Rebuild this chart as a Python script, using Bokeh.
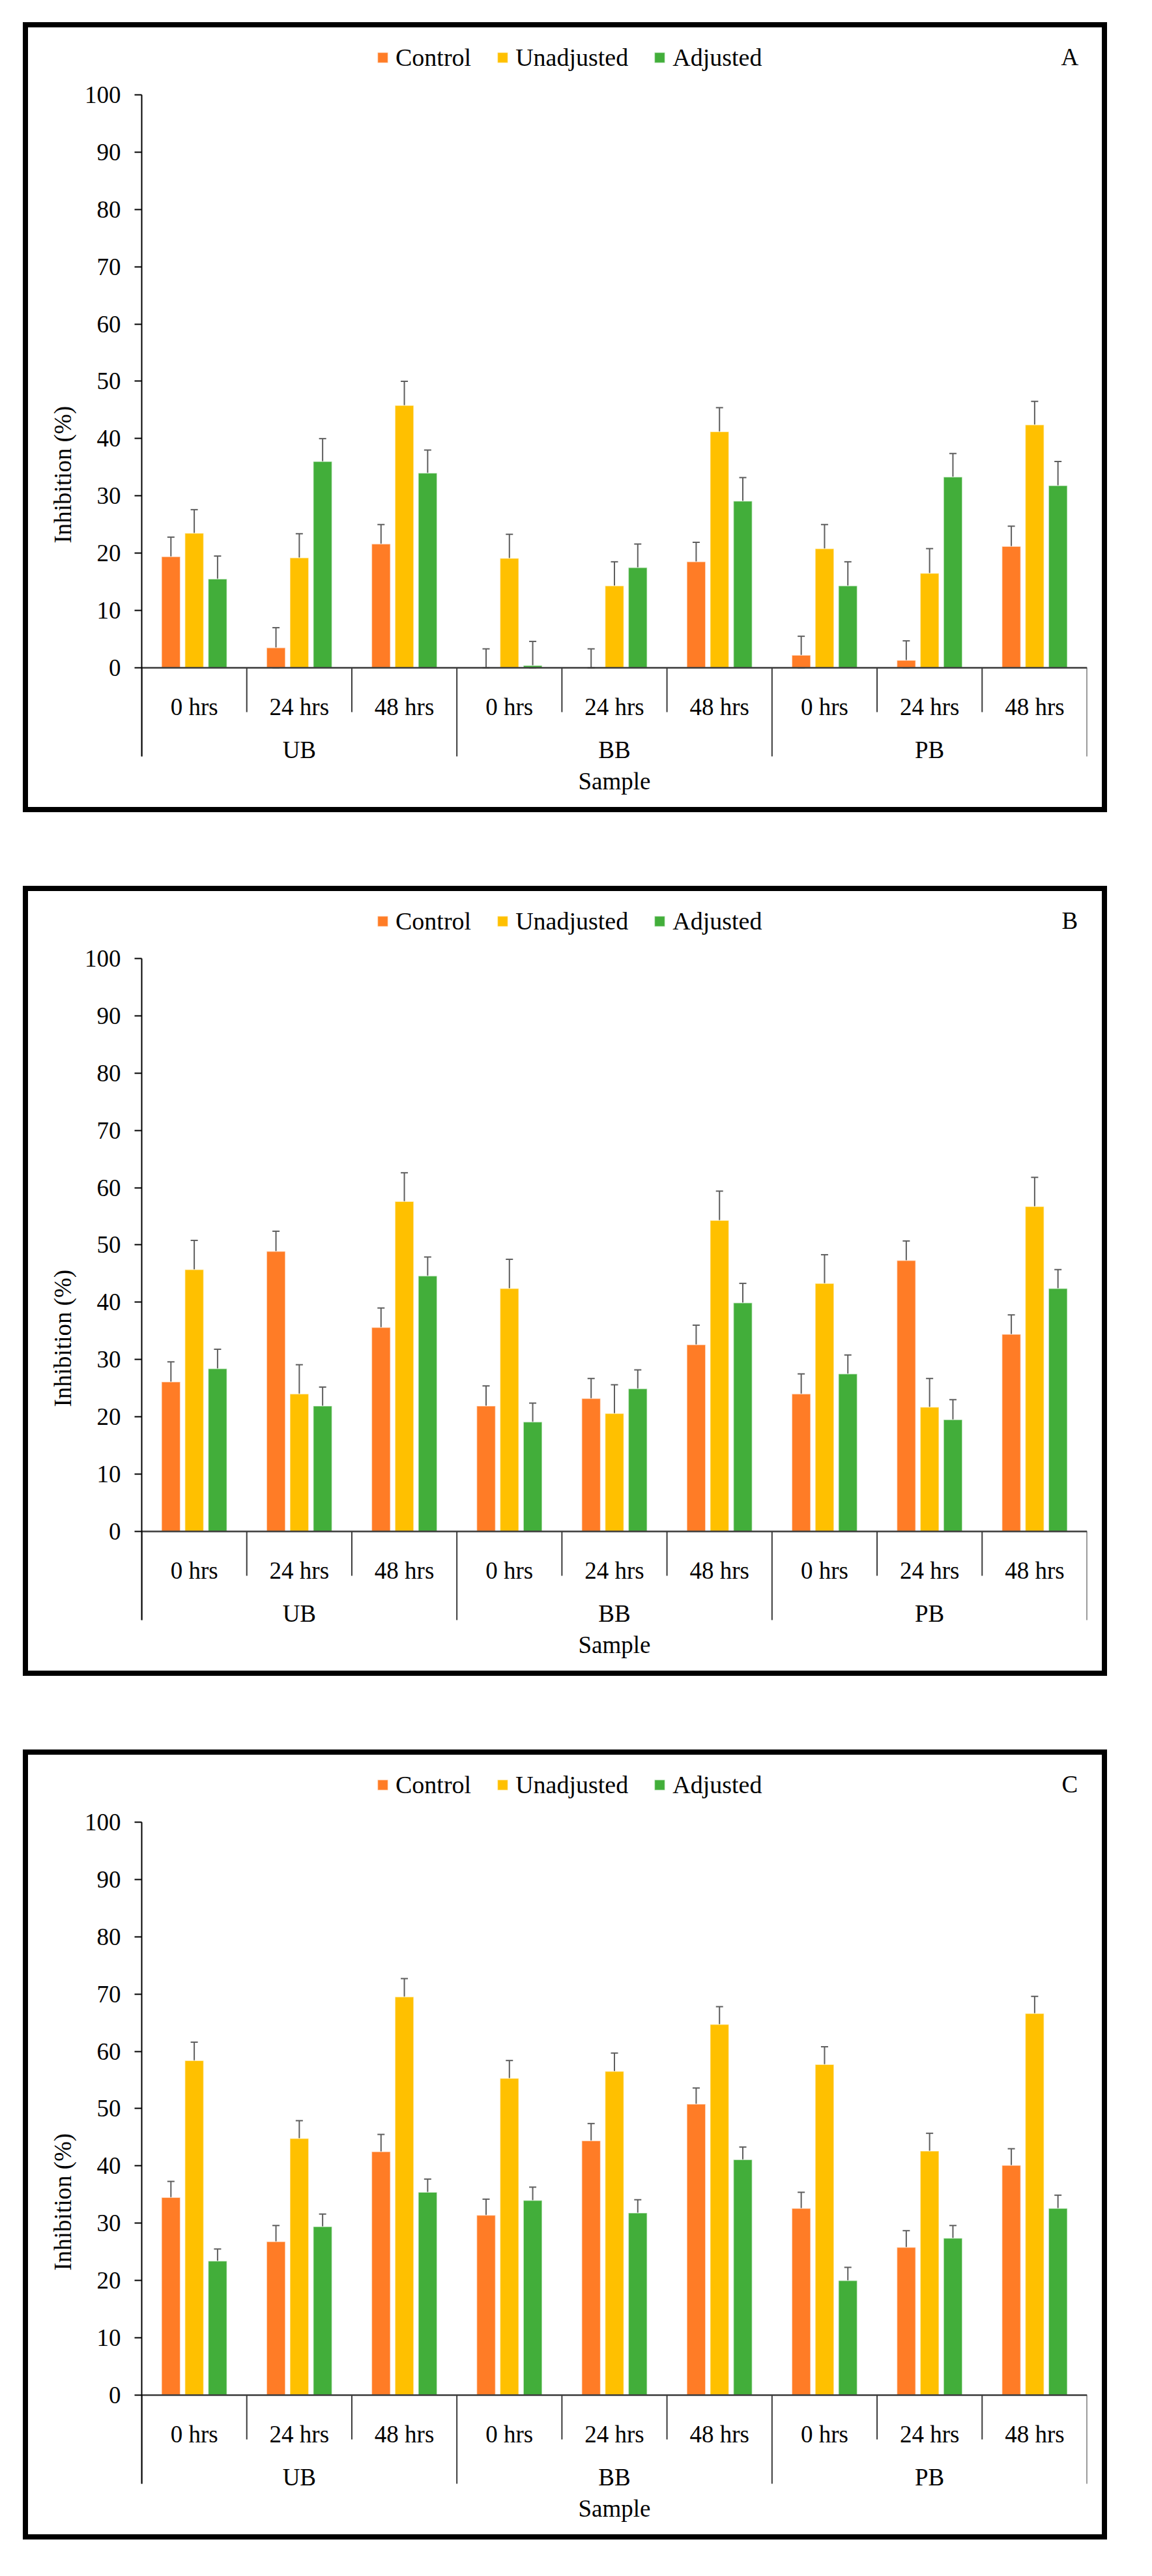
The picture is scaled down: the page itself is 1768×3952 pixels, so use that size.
from bokeh.core.properties import value
from bokeh.embed import file_html
from bokeh.layouts import column, row
from bokeh.models import (ColumnDataSource, Div, FixedTicker, Label, Legend, LegendItem,
                          Range1d, Spacer, TeeHead, Title, Whisker)
from bokeh.plotting import figure
from bokeh.resources import INLINE

GROUPS = ["UB", "BB", "PB"]
TIMES = ["0 hrs", "24 hrs", "48 hrs"]
SERIES = ["Control", "Unadjusted", "Adjusted"]
COLORS = ["#FF7C26", "#FFC000", "#42AE3A"]
Y_TICKS = list(range(0, 101, 10))

# panel A
control_a = [19.4, 3.5, 21.6, 0.0, 0.0, 18.5, 2.2, 1.3, 21.2]
unadjusted_a = [23.5, 19.2, 45.8, 19.1, 14.3, 41.2, 20.8, 16.5, 42.4]
adjusted_a = [15.5, 36.0, 34.0, 0.4, 17.5, 29.1, 14.3, 33.3, 31.8]
control_err_a = [3.4, 3.5, 3.4, 3.3, 3.3, 3.4, 3.3, 3.4, 3.5]
unadjusted_err_a = [4.1, 4.2, 4.2, 4.2, 4.2, 4.2, 4.2, 4.3, 4.1]
adjusted_err_a = [4.0, 4.0, 4.0, 4.2, 4.1, 4.1, 4.2, 4.1, 4.2]

# panel B
control_b = [26.1, 48.9, 35.6, 21.9, 23.2, 32.6, 24.0, 47.3, 34.4]
unadjusted_b = [45.7, 24.0, 57.6, 42.4, 20.6, 54.3, 43.3, 21.7, 56.7]
adjusted_b = [28.4, 21.9, 44.6, 19.1, 24.9, 39.9, 27.5, 19.5, 42.4]
control_err_b = [3.5, 3.5, 3.4, 3.5, 3.5, 3.4, 3.5, 3.4, 3.4]
unadjusted_err_b = [5.1, 5.1, 5.0, 5.1, 5.0, 5.1, 5.0, 5.0, 5.1]
adjusted_err_b = [3.4, 3.3, 3.3, 3.3, 3.3, 3.4, 3.3, 3.5, 3.3]

# panel C
control_c = [34.5, 26.8, 42.5, 31.4, 44.4, 50.8, 32.6, 25.8, 40.1]
unadjusted_c = [58.4, 44.8, 69.5, 55.3, 56.5, 64.7, 57.7, 42.6, 66.6]
adjusted_c = [23.4, 29.4, 35.4, 34.0, 31.8, 41.1, 20.0, 27.4, 32.6]
control_err_c = [2.8, 2.8, 3.0, 2.8, 3.0, 2.8, 2.8, 2.9, 2.9]
unadjusted_err_c = [3.2, 3.1, 3.2, 3.1, 3.2, 3.1, 3.1, 3.1, 3.0]
adjusted_err_c = [2.1, 2.2, 2.3, 2.3, 2.3, 2.2, 2.3, 2.2, 2.3]

FONT = "Liberation Serif"
FS = "37px"
ERR_COLOR = "#5e5e5e"
AXIS_COLOR = "#3a3a3a"

INNER_W, INNER_H, BORDER = 1648, 1196, 8


def make_panel(letter, values, errors):
    n_cat = len(GROUPS) * len(TIMES)
    p = figure(
        width=INNER_W, height=INNER_H, title=None,
        x_range=Range1d(0, n_cat), y_range=Range1d(-24.35, 111.72),
        x_axis_type=None, toolbar_location=None, output_backend="svg",
        min_border_left=174, min_border_right=23, min_border_top=0, min_border_bottom=0,
        outline_line_color=None, background_fill_color="white", border_fill_color="white",
    )
    p.grid.visible = False

    centers = [i + 0.5 for i in range(n_cat)]
    offsets = [-0.222, 0.0, 0.222]
    items = []
    for k, (name, color) in enumerate(zip(SERIES, COLORS)):
        vals, errs = values[k], errors[k]
        src = ColumnDataSource(data={
            "x": [c + offsets[k] for c in centers],
            "top": vals,
            "upper": [v + e for v, e in zip(vals, errs)],
            # the value axis starts at 0, so error bars stop there
            "lower": [max(v - e, 0) for v, e in zip(vals, errs)],
        })
        r = p.vbar(x="x", top="top", bottom=0, width=0.178, source=src, fill_color=color,
                   line_color="white", line_alpha=0.55, line_width=1.5)
        items.append(LegendItem(label=name, renderers=[r]))
        p.add_layout(Whisker(
            source=src, base="x", upper="upper", lower="lower",
            line_color=ERR_COLOR, line_width=2,
            upper_head=TeeHead(size=11, line_color=ERR_COLOR, line_width=2),
            lower_head=TeeHead(size=11, line_color=ERR_COLOR, line_width=2),
        ))

    # category axis drawn Excel style: baseline, separators, two label rows
    bounds = list(range(n_cat + 1))
    sep_bottom = [-15.47 if b % len(TIMES) == 0 else -7.74 for b in bounds]
    p.segment(x0=bounds, y0=[0] * len(bounds), x1=bounds, y1=sep_bottom,
              line_color=AXIS_COLOR, line_width=2)
    p.segment(x0=[0], y0=[0], x1=[n_cat], y1=[0], line_color=AXIS_COLOR, line_width=2.5)

    text_kw = dict(text_font=value(FONT), text_font_size=value(FS), text_color="black",
                   text_align="center", text_baseline="alphabetic")
    p.text(x=centers, y=[-6.83] * n_cat, text=TIMES * len(GROUPS), **text_kw)
    p.text(x=[g * len(TIMES) + len(TIMES) / 2 for g in range(len(GROUPS))],
           y=[-14.33] * len(GROUPS), text=GROUPS, **text_kw)
    p.text(x=[n_cat / 2], y=[-19.8], text=["Sample"], **text_kw)

    ax = p.yaxis[0]
    ax.ticker = FixedTicker(ticks=Y_TICKS)
    ax.bounds = (-15.47, 100)
    ax.axis_line_color = "black"
    ax.axis_line_width = 2
    ax.major_tick_line_color = "black"
    ax.major_tick_line_width = 2
    ax.major_tick_out = 11
    ax.major_tick_in = 0
    ax.minor_tick_out = 0
    ax.minor_tick_in = 0
    ax.major_label_standoff = 21
    ax.major_label_text_font = FONT
    ax.major_label_text_font_size = FS
    ax.major_label_text_color = "black"

    p.add_layout(Title(text="Inhibition (%)", align="left", offset=405, standoff=20,
                       text_font=FONT, text_font_size=FS, text_font_style="normal",
                       text_color="black"), "left")

    legend = Legend(items=items, orientation="horizontal", location=(360, 1128),
                    border_line_color=None, background_fill_alpha=0, padding=0, margin=0,
                    spacing=38, label_standoff=10, glyph_width=20, glyph_height=20,
                    label_text_font=FONT, label_text_font_size="38px",
                    label_text_color="black")
    p.add_layout(legend)

    p.add_layout(Label(x=8.834, y=106.6, text=letter, text_font=FONT, text_font_size=FS,
                       text_color="black", text_align="center", text_baseline="alphabetic"))

    def bar(w, h):
        return Div(text="", width=w, height=h, margin=0, styles={"background-color": "black"})

    return row(
        bar(BORDER, INNER_H + 2 * BORDER),
        column(bar(INNER_W, BORDER), p, bar(INNER_W, BORDER)),
        bar(BORDER, INNER_H + 2 * BORDER),
    )


panel_a = make_panel("A", [control_a, unadjusted_a, adjusted_a],
                     [control_err_a, unadjusted_err_a, adjusted_err_a])
panel_b = make_panel("B", [control_b, unadjusted_b, adjusted_b],
                     [control_err_b, unadjusted_err_b, adjusted_err_b])
panel_c = make_panel("C", [control_c, unadjusted_c, adjusted_c],
                     [control_err_c, unadjusted_err_c, adjusted_err_c])

outer_h = INNER_H + 2 * BORDER
layout = column(
    Spacer(width=10, height=34),
    row(Spacer(width=35, height=outer_h), panel_a),
    Spacer(width=10, height=113),
    row(Spacer(width=35, height=outer_h), panel_b),
    Spacer(width=10, height=113),
    row(Spacer(width=35, height=outer_h), panel_c),
)

open("out.html", "w").write(file_html(layout, INLINE))
